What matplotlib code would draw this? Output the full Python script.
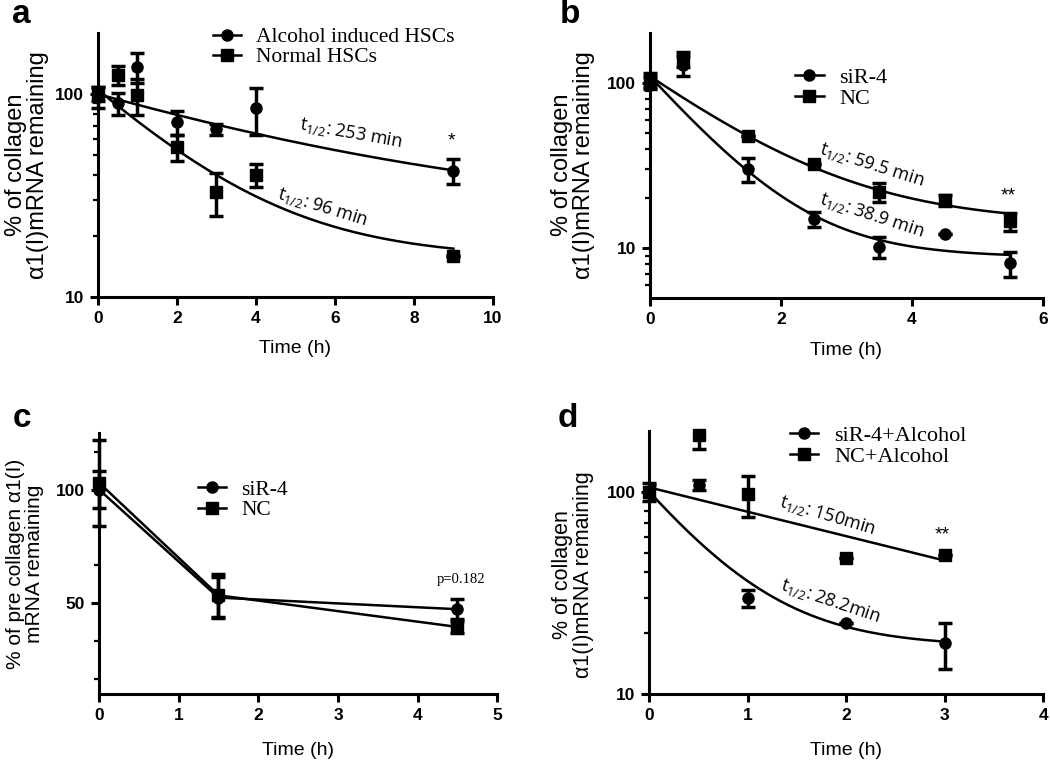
import numpy as np
import matplotlib
matplotlib.use('Agg')
import matplotlib.pyplot as plt
from matplotlib.lines import Line2D

plt.rcParams['font.family'] = ['Liberation Sans', 'DejaVu Sans']
# tick labels are bold; every other text sets weight='normal' itself
plt.rcParams['font.weight'] = 'bold'

# ---- panel a ----
time_a = [0, 0.5, 1, 2, 3, 4, 9]
alcohol_a = [97, 90, 136, 73, 67, 85, 42]
alcohol_a_err = [12, 11, 23, 10, 4, 22, 6]
normal_a = [100, 124, 99, 55, 33, 40, 16]
normal_a_err = [8, 13, 20, 8, 8, 5, 0]
# one-phase decay fits: start, plateau, half-life (min)
fit_alcohol_a = [100, 25, 253]
fit_normal_a = [105, 15.5, 96]

# ---- panel b ----
time_b = [0, 0.5, 1.5, 2.5, 3.5, 4.5, 5.5]
sir4_b = [100, 128, 30, 15, 10.2, 12.2, 8.1]
sir4_b_err = [8, 18, 5, 1.5, 1.5, 0, 1.4]
nc_b = [105, 140, 48, 32.5, 21.9, 19.5, 14.5]
nc_b_err = [10, 15, 0, 0, 2.8, 1.5, 1.8]
fit_sir4_b = [110, 8.8, 38.9]
fit_nc_b = [110, 14.1, 59.5]

# ---- panel c ----
time_c = [0, 1.5, 4.5]
sir4_c = [100, 52.5, 47.4]
sir4_c_err = [8, 9, 4.5]
nc_c = [103, 53.5, 39.6]
nc_c_err = [19, 9.5, 2.5]

# ---- panel d ----
time_d = [0, 0.5, 1, 2, 3]
sir4_d = [100, 108, 29.8, 22.5, 17.9]
sir4_d_err = [10, 6, 2.8, 0, 4.6]
nc_d = [100, 190, 97, 46.9, 48.7]
nc_d_err = [8, 28, 22, 0, 0]
fit_sir4_d = [100, 17.2, 28.2]
fit_nc_d = [105, 0, 150]


def decay(t, p):
    y0, plateau, half = p
    return (y0 - plateau) * np.exp(-np.log(2) * t / (half / 60.0)) + plateau


fig = plt.figure(figsize=(10.5, 7.61), dpi=100)
ax_a = fig.add_axes([0.0933, 0.6097, 0.3762, 0.3469])
ax_b = fig.add_axes([0.6190, 0.6088, 0.3743, 0.3474])
ax_c = fig.add_axes([0.0943, 0.0877, 0.3793, 0.3437])
ax_d = fig.add_axes([0.6184, 0.0877, 0.3752, 0.3463])

ms_c, ms_s = 8, 8.5
ekw = dict(color='black', capsize=5, capthick=2.5, elinewidth=2.5, clip_on=False, zorder=3)


def points(ax, x, y, err, marker):
    ms = ms_c if marker == 'o' else ms_s
    return ax.errorbar(x, y, yerr=err, fmt=marker, ms=ms, **ekw)


def style(ax, xticks, yticks, ylim, minor, logy=True):
    if logy:
        ax.set_yscale('log')
    ax.set_xlim(xticks[0], xticks[-1])
    ax.set_ylim(*ylim)
    for s in ['top', 'right']:
        ax.spines[s].set_visible(False)
    for s in ['left', 'bottom']:
        ax.spines[s].set_linewidth(2.2)
    ax.set_xticks(xticks)
    ax.set_xticklabels([str(t) for t in xticks])
    ax.set_yticks(yticks)
    ax.set_yticklabels([str(t) for t in yticks])
    ax.set_yticks(minor, minor=True)
    ax.set_yticklabels([''] * len(minor), minor=True)
    ax.set_xticks([], minor=True)
    ax.tick_params(which='major', length=6, width=2.2, labelsize=12.5, pad=4)
    ax.tick_params(which='minor', length=3.5, width=1.6)
    ax.set_xlabel('Time (h)', fontsize=14, fontweight='normal')


def legend(ax, labels, x, y, size):
    h1 = Line2D([], [], color='k', marker='o', ms=ms_c, lw=1.8)
    h2 = Line2D([], [], color='k', marker='s', ms=ms_s, lw=1.8)
    ax.legend([h1, h2], labels, loc='center left', bbox_to_anchor=(x, y),
              bbox_transform=fig.transFigure, frameon=False,
              prop={'family': 'Liberation Serif', 'size': size, 'weight': 'normal'},
              handlelength=1.3, handletextpad=0.7, labelspacing=0.0,
              borderpad=0, borderaxespad=0)


def half_label(ax, x, y, text, rot):
    ax.text(x, y, r't$_{\mathregular{1/2}}$: ' + text, rotation=rot, rotation_mode='anchor',
            ha='center', va='center', fontsize=13, family='Open Sans', fontweight='normal')


decades = [20, 30, 40, 50, 60, 70, 80, 90]

# a
tt = np.linspace(0, 9, 200)
ax_a.plot(tt, decay(tt, fit_alcohol_a), color='k', lw=1.8)
ax_a.plot(tt, decay(tt, fit_normal_a), color='k', lw=1.8)
points(ax_a, time_a, alcohol_a, alcohol_a_err, 'o')
points(ax_a, time_a, normal_a, normal_a_err, 's')
style(ax_a, [0, 2, 4, 6, 8, 10], [10, 100], (10, 200), decades)
ax_a.xaxis.set_label_coords(0.5, -0.163)
half_label(ax_a, 6.4, 64, '253 min', -10)
half_label(ax_a, 5.7, 27.7, '96 min', -17)
ax_a.text(8.96, 59, '*', ha='center', va='center', fontsize=14, fontweight='normal')
legend(ax_a, ['Alcohol induced HSCs', 'Normal HSCs'], 0.203, 0.938, 15.5)

# b
tt = np.linspace(0, 5.5, 200)
ax_b.plot(tt, decay(tt, fit_sir4_b), color='k', lw=1.8)
ax_b.plot(tt, decay(tt, fit_nc_b), color='k', lw=1.8)
points(ax_b, time_b, sir4_b, sir4_b_err, 'o')
points(ax_b, time_b, nc_b, nc_b_err, 's')
style(ax_b, [0, 2, 4, 6], [10, 100], (5, 200), [6, 7, 8, 9] + decades)
ax_b.xaxis.set_label_coords(0.5, -0.166)
half_label(ax_b, 3.39, 32, '59.5 min', -17.5)
half_label(ax_b, 3.39, 15.7, '38.9 min', -18)
ax_b.text(5.47, 20.8, '**', ha='center', va='center', fontsize=14, fontweight='normal')
legend(ax_b, ['siR-4', 'NC'], 0.757, 0.884, 16)

# c
ax_c.plot(time_c, sir4_c, color='k', lw=1.8)
ax_c.plot(time_c, nc_c, color='k', lw=1.8)
points(ax_c, time_c, sir4_c, sir4_c_err, 'o')
points(ax_c, time_c, nc_c, nc_c_err, 's')
style(ax_c, [0, 1, 2, 3, 4, 5], [50, 100], (10, 125),
      [50 / 3, 100 / 3, 200 / 3, 250 / 3, 350 / 3], logy=False)
ax_c.xaxis.set_label_coords(0.5, -0.181)
ax_c.text(4.54, 60.5, 'p=0.182', ha='center', va='center', fontsize=10.5,
          family='Liberation Serif', fontweight='normal')
legend(ax_c, ['siR-4', 'NC'], 0.189, 0.343, 15.5)

# d
tt = np.linspace(0, 3, 200)
ax_d.plot(tt, decay(tt, fit_sir4_d), color='k', lw=1.8)
ax_d.plot(tt, decay(tt, fit_nc_d), color='k', lw=1.8)
points(ax_d, time_d, sir4_d, sir4_d_err, 'o')
eb = points(ax_d, time_d, nc_d, nc_d_err, 's')
for art in list(eb[1]) + list(eb[2]):
    art.set_clip_on(True)
style(ax_d, [0, 1, 2, 3, 4], [10, 100], (10, 200), decades)
ax_d.xaxis.set_label_coords(0.5, -0.18)
half_label(ax_d, 1.81, 76.7, '150min', -16.5)
half_label(ax_d, 1.84, 29, '28.2min', -18.5)
ax_d.text(2.97, 61, '**', ha='center', va='center', fontsize=14, fontweight='normal')
legend(ax_d, ['siR-4+Alcohol', 'NC+Alcohol'], 0.752, 0.414, 16)

# y labels
ylab = '% of collagen\n\u03b11(I)mRNA remaining'
fig.text(0.0257, 0.7832, ylab, rotation=90, ha='center', va='center',
         fontsize=17, linespacing=1.0, fontweight='normal')
fig.text(0.5457, 0.7832, ylab, rotation=90, ha='center', va='center',
         fontsize=17, linespacing=1.0, fontweight='normal')
fig.text(0.0238, 0.2589, '% of pre collagen \u03b11(I)\nmRNA remaining', rotation=90,
         ha='center', va='center', fontsize=15, linespacing=1.0, fontweight='normal')
fig.text(0.5457, 0.2444, ylab, rotation=90, ha='center', va='center',
         fontsize=15.5, linespacing=1.0, fontweight='normal')

# panel letters
for lx, ly, letter in [(0.0114, 0.9698, 'a'), (0.533, 0.9698, 'b'),
                       (0.0124, 0.4389, 'c'), (0.531, 0.4389, 'd')]:
    fig.text(lx, ly, letter, fontsize=24, fontweight='bold', va='baseline')

fig.savefig('out.png', dpi=100)
